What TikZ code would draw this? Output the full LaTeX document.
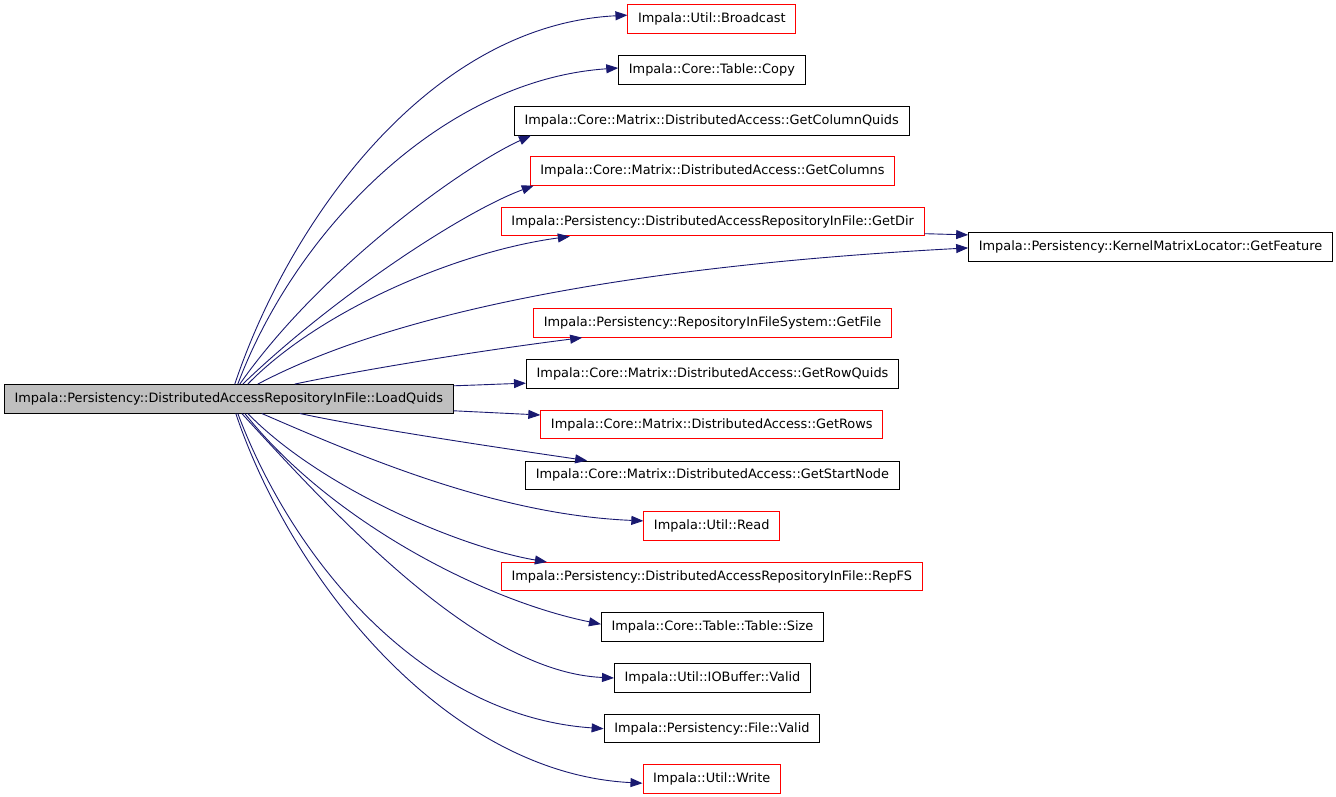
\documentclass[tikz,border=0pt]{standalone}
\usepackage{fontspec}
\setmainfont{DejaVu Sans}
\usetikzlibrary{arrows.meta}
\definecolor{edgeblue}{RGB}{25,25,112}
\definecolor{rootgray}{RGB}{191,191,191}

\begin{document}
\begin{tikzpicture}[x=1pt,y=1pt,
    fn/.style={draw=black, line width=0.9pt, inner xsep=10.2pt, inner ysep=0pt,
      minimum height=28.5pt, font=\fontsize{12.9}{14}\selectfont},
    fnred/.style={fn, draw=red},
    call/.style={edgeblue, line width=0.9pt, -{Triangle[length=12pt,width=9pt]}}]
\useasboundingbox (0,0) rectangle (1336,797);
% caller
\node[fn, fill=rootgray] (root) at (228.8,398.2) {Impala::Persistency::DistributedAccessRepositoryInFile::LoadQuids};
% callees
\node[fnred] (bcast)   at (711.9,777.8) {Impala::Util::Broadcast};
\node[fn]    (copy)    at (711.9,727.0) {Impala::Core::Table::Copy};
\node[fn]    (colq)    at (711.7,676.1) {Impala::Core::Matrix::DistributedAccess::GetColumnQuids};
\node[fnred] (cols)    at (712.5,626.1) {Impala::Core::Matrix::DistributedAccess::GetColumns};
\node[fnred] (getdir)  at (712.7,575.3) {Impala::Persistency::DistributedAccessRepositoryInFile::GetDir};
\node[fn]    (feature) at (1150.5,550.1) {Impala::Persistency::KernelMatrixLocator::GetFeature};
\node[fnred] (getfile) at (712.5,474.0) {Impala::Persistency::RepositoryInFileSystem::GetFile};
\node[fn]    (rowq)    at (712.5,422.8) {Impala::Core::Matrix::DistributedAccess::GetRowQuids};
\node[fnred] (rows)    at (711.8,372.5) {Impala::Core::Matrix::DistributedAccess::GetRows};
\node[fn]    (start)   at (712.4,321.7) {Impala::Core::Matrix::DistributedAccess::GetStartNode};
\node[fnred] (read)    at (711.7,271.1) {Impala::Util::Read};
\node[fnred] (repfs)   at (711.8,220.3) {Impala::Persistency::DistributedAccessRepositoryInFile::RepFS};
\node[fn]    (size)    at (712.5,169.8) {Impala::Core::Table::Table::Size};
\node[fn]    (iobuf)   at (712.5,119.0) {Impala::Util::IOBuffer::Valid};
\node[fn]    (fvalid)  at (711.9,68.3)  {Impala::Persistency::File::Valid};
\node[fnred] (write)   at (711.7,17.8)  {Impala::Util::Write};
% calls, upper half
\draw[call] ([xshift=6pt]root.north) .. controls +(55,164) and +(-198,-10) .. ([yshift=4pt]bcast.west);
\draw[call] ([xshift=9pt]root.north) .. controls +(58,154) and +(-176,-12) .. ([yshift=2pt]copy.west);
\draw[call] ([xshift=11pt]root.north) .. controls +(80,114) and +(-70,-32) .. ([xshift=17pt]colq.south west);
\draw[call] ([xshift=14pt]root.north) .. controls +(87,84) and +(-73,-27) .. ([xshift=4pt]cols.south west);
\draw[call] ([xshift=19pt]root.north) .. controls +(72,74) and +(-112,-15) .. ([xshift=69pt]getdir.south west);
\draw[call] ([xshift=29pt]root.north) .. controls +(102,54) and +(-410,-22) .. ([yshift=-1pt]feature.west);
\draw[call] ([xshift=66pt]root.north) .. controls +(65,14) and +(-103,-13) .. ([xshift=49pt]getfile.south west);
\draw[call] ([yshift=13pt]root.east) .. controls +(30,1) and +(-30,-1) .. ([yshift=-9pt]rowq.west);
\draw[call] ([yshift=-12pt]root.east) -- ([yshift=9.5pt]rows.west);
% calls, lower half
\draw[call] ([xshift=71pt]root.south) .. controls +(65,-14) and +(-103,15) .. ([xshift=62pt]start.north west);
\draw[call] ([xshift=33pt]root.south) .. controls +(108,-47) and +(-143,6) .. ([yshift=5pt]read.west);
\draw[call] ([xshift=19pt]root.south) .. controls +(72,-74) and +(-88,15) .. ([xshift=46pt]repfs.north west);
\draw[call] ([xshift=16pt]root.south) .. controls +(85,-107) and +(-118,24) .. ([yshift=3pt]size.west);
\draw[call] ([xshift=13pt]root.south) .. controls +(98,-107) and +(-134,6) .. (iobuf.west);
\draw[call] ([xshift=9pt]root.south) .. controls +(58,-154) and +(-176,12) .. (fvalid.west);
\draw[call] ([xshift=7pt]root.south) .. controls +(55,-164) and +(-198,10) .. ([yshift=-4pt]write.west);
% second level
\draw[call] ([yshift=-12pt]getdir.east) -- ([yshift=12pt]feature.west);
\end{tikzpicture}
\end{document}
